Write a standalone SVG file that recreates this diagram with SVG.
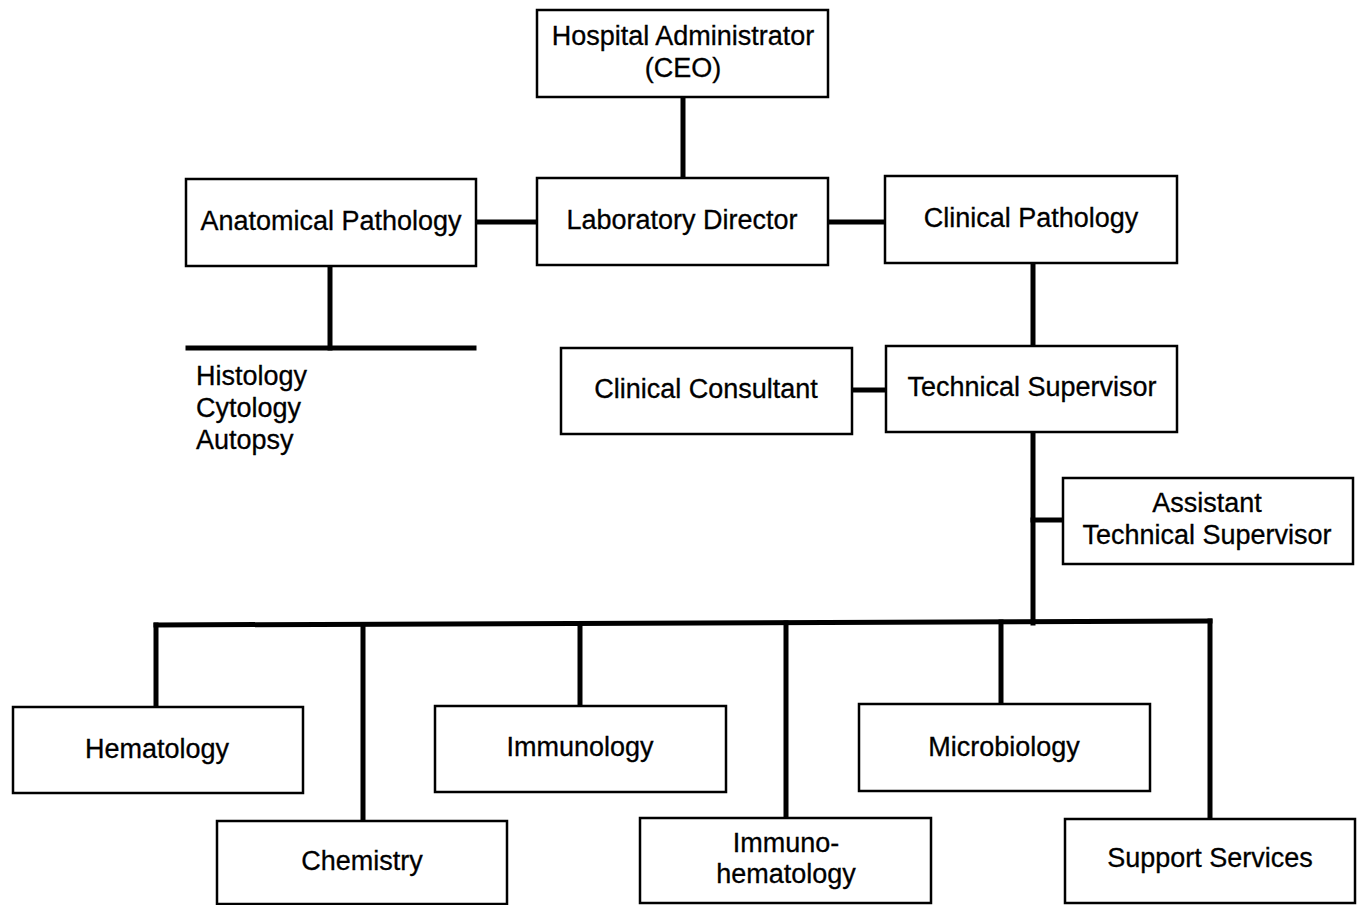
<svg xmlns="http://www.w3.org/2000/svg" width="1364" height="905" viewBox="0 0 1364 905">
<style>
.box{fill:#fff;stroke:#000;stroke-width:2.5}
.ln{stroke:#000;stroke-width:5;fill:none;stroke-linecap:square}
text{font-family:"Liberation Sans",Arial,sans-serif;font-size:27px;fill:#000;stroke:#000;stroke-width:0.3}
.c{text-anchor:middle;dominant-baseline:central}
</style>
<rect width="1364" height="905" fill="#fff"/>
<g id="connectors">
<line class="ln" x1="683" y1="97" x2="683" y2="178"/>
<line class="ln" x1="476" y1="222" x2="537" y2="222"/>
<line class="ln" x1="828" y1="222" x2="885" y2="222"/>
<line class="ln" x1="330" y1="266" x2="330" y2="348"/>
<line class="ln" x1="188" y1="348" x2="474" y2="348"/>
<line class="ln" x1="1033" y1="263" x2="1033" y2="346"/>
<line class="ln" x1="852" y1="390" x2="886" y2="390"/>
<line class="ln" x1="1033" y1="432" x2="1033" y2="623"/>
<line class="ln" x1="1033" y1="520" x2="1063" y2="520"/>
<line class="ln" x1="156" y1="625" x2="1210" y2="621"/>
<line class="ln" x1="156" y1="625" x2="156" y2="707"/>
<line class="ln" x1="363" y1="625" x2="363" y2="821"/>
<line class="ln" x1="580" y1="624" x2="580" y2="706"/>
<line class="ln" x1="786" y1="623" x2="786" y2="818"/>
<line class="ln" x1="1001" y1="622" x2="1001" y2="704"/>
<line class="ln" x1="1210" y1="621" x2="1210" y2="819"/>
</g>
<g id="ceo"><rect class="box" x="537" y="10" width="291" height="87"/><text class="c" x="683" y="36">Hospital Administrator</text><text class="c" x="683" y="68">(CEO)</text></g>
<g id="labdir"><rect class="box" x="537" y="178" width="291" height="87"/><text class="c" x="682" y="220">Laboratory Director</text></g>
<g id="anatpath"><rect class="box" x="186" y="179" width="290" height="87"/><text class="c" x="331" y="221">Anatomical Pathology</text></g>
<g id="anatlist"><text x="196" y="385">Histology</text><text x="196" y="417">Cytology</text><text x="196" y="449">Autopsy</text></g>
<g id="clinpath"><rect class="box" x="885" y="176" width="292" height="87"/><text class="c" x="1031" y="218">Clinical Pathology</text></g>
<g id="clincons"><rect class="box" x="561" y="348" width="291" height="86"/><text class="c" x="706" y="389">Clinical Consultant</text></g>
<g id="techsup"><rect class="box" x="886" y="346" width="291" height="86"/><text class="c" x="1032" y="387">Technical Supervisor</text></g>
<g id="asstsup"><rect class="box" x="1063" y="478" width="290" height="86"/><text class="c" x="1207" y="503">Assistant</text><text class="c" x="1207" y="535">Technical Supervisor</text></g>
<g id="hematology"><rect class="box" x="13" y="707" width="290" height="86"/><text class="c" x="157" y="749">Hematology</text></g>
<g id="chemistry"><rect class="box" x="217" y="821" width="290" height="83"/><text class="c" x="362" y="861">Chemistry</text></g>
<g id="immunology"><rect class="box" x="435" y="706" width="291" height="86"/><text class="c" x="580" y="747">Immunology</text></g>
<g id="immunohem"><rect class="box" x="640" y="818" width="291" height="85"/><text class="c" x="786" y="843">Immuno-</text><text class="c" x="786" y="874">hematology</text></g>
<g id="microbiology"><rect class="box" x="859" y="704" width="291" height="87"/><text class="c" x="1004" y="747">Microbiology</text></g>
<g id="support"><rect class="box" x="1065" y="819" width="290" height="84"/><text class="c" x="1210" y="858">Support Services</text></g>
</svg>
